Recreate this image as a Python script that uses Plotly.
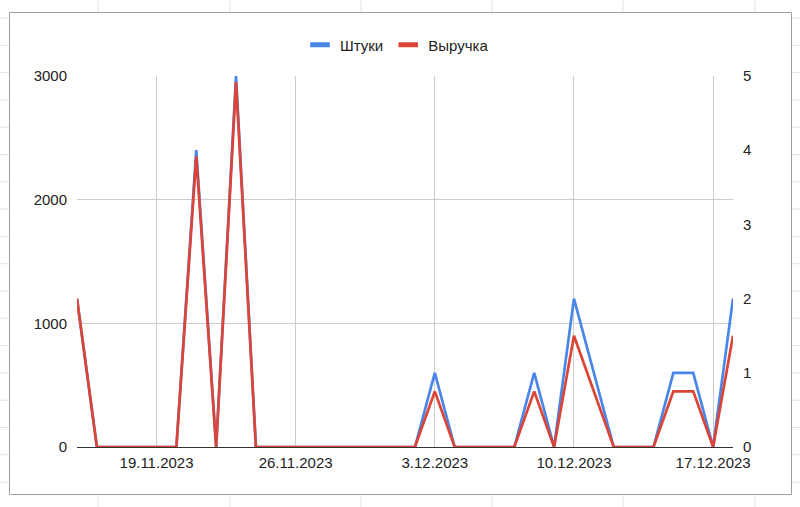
import plotly.graph_objects as go

# ---- data ----
dates = [
    "2023-11-15", "2023-11-16", "2023-11-17", "2023-11-18", "2023-11-19", "2023-11-20",
    "2023-11-21", "2023-11-22", "2023-11-23", "2023-11-24", "2023-11-25", "2023-11-26",
    "2023-11-27", "2023-11-28", "2023-11-29", "2023-11-30", "2023-12-01", "2023-12-02",
    "2023-12-03", "2023-12-04", "2023-12-05", "2023-12-06", "2023-12-07", "2023-12-08",
    "2023-12-09", "2023-12-10", "2023-12-11", "2023-12-12", "2023-12-13", "2023-12-14",
    "2023-12-15", "2023-12-16", "2023-12-17", "2023-12-18",
]
pieces = [2, 0, 0, 0, 0, 0, 4, 0, 5, 0, 0, 0, 0, 0, 0, 0, 0, 0,
          1, 0, 0, 0, 0, 1, 0, 2, 1, 0, 0, 0, 1, 1, 0, 2]
revenue = [1200, 0, 0, 0, 0, 0, 2350, 0, 2950, 0, 0, 0, 0, 0, 0, 0, 0, 0,
           450, 0, 0, 0, 0, 450, 0, 900, 450, 0, 0, 0, 450, 450, 0, 900]
x_tick_vals = ["2023-11-19", "2023-11-26", "2023-12-03", "2023-12-10", "2023-12-17"]
x_tick_text = ["19.11.2023", "26.11.2023", "3.12.2023", "10.12.2023", "17.12.2023"]
left_ticks = [0, 1000, 2000, 3000]
right_ticks = [0, 1, 2, 3, 4, 5]
series_names = ["Штуки", "Выручка"]

BLUE = "#4a86e8"
RED = "#db4437"
FONT = "Liberation Sans, Arial, sans-serif"

W, H = 800, 507
L, R, T, B = 77, 67, 76, 60
PW, PH = W - L - R, H - T - B


def px(x):
    return (x - L) / PW


def py(y):
    return (H - B - y) / PH


fig = go.Figure()

# blue on the base (right) axis, red on the overlay (left) axis -> red drawn on top
fig.add_trace(go.Scatter(x=dates, y=pieces, name=series_names[0], mode="lines",
                         line=dict(color=BLUE, width=2.7), yaxis="y", showlegend=False))
fig.add_trace(go.Scatter(x=dates, y=revenue, name=series_names[1], mode="lines",
                         line=dict(color=RED, width=2.7), yaxis="y2", showlegend=False))
# legend entries
for nm, col in zip(series_names, [BLUE, RED]):
    fig.add_trace(go.Scatter(x=[None], y=[None], name=nm, mode="markers",
                             marker=dict(symbol="line-ew", size=14,
                                         line=dict(color=col, width=5))))

shapes = []
grid_col = "#e3e3e3"
# spreadsheet background lines
for vx in [98, 230, 361, 492, 623, 755]:
    shapes.append(dict(type="line", xref="paper", yref="paper", layer="below",
                       x0=px(vx), x1=px(vx), y0=py(0), y1=py(H),
                       line=dict(color=grid_col, width=1)))
k = 0
while 18 + 27.3 * k < H:
    hy = 18 + 27.3 * k
    shapes.append(dict(type="line", xref="paper", yref="paper", layer="below",
                       x0=px(0), x1=px(W), y0=py(hy), y1=py(hy),
                       line=dict(color=grid_col, width=1)))
    k += 1
# chart card
shapes.append(dict(type="rect", xref="paper", yref="paper", layer="below",
                   x0=px(9.5), x1=px(791.5), y0=py(494.5), y1=py(12.5),
                   fillcolor="white", line=dict(color="#9e9e9e", width=1)))

fig.update_layout(
    width=W, height=H, autosize=False,
    margin=dict(l=L, r=R, t=T, b=B, pad=0),
    paper_bgcolor="white", plot_bgcolor="rgba(0,0,0,0)",
    font=dict(family=FONT, size=15, color="#222222"),
    shapes=shapes,
    showlegend=True,
    legend=dict(orientation="h", xanchor="center", yanchor="middle",
                x=px(397), y=py(45), font=dict(size=15, color="#222222"),
                bgcolor="rgba(0,0,0,0)", itemwidth=30),
    xaxis=dict(type="date", range=["2023-11-15", "2023-12-18"],
               tickvals=x_tick_vals, ticktext=x_tick_text,
               showgrid=True, gridcolor="#cccccc", gridwidth=1,
               showline=False, zeroline=False, ticks="", ticklabelstandoff=5),
    yaxis=dict(range=[0, 5], tickvals=right_ticks, side="right",
               showgrid=False, zeroline=True, zerolinecolor="#333333", zerolinewidth=1,
               showline=False, ticks="", ticklabelstandoff=9),
    yaxis2=dict(range=[0, 3000], tickvals=left_ticks, side="left", overlaying="y",
                showgrid=True, gridcolor="#cccccc", gridwidth=1,
                zeroline=False, showline=False, ticks="", ticklabelstandoff=9),
)

fig.write_html("out.html", config={"displayModeBar": False},
               post_script="document.body.style.margin='0';")
